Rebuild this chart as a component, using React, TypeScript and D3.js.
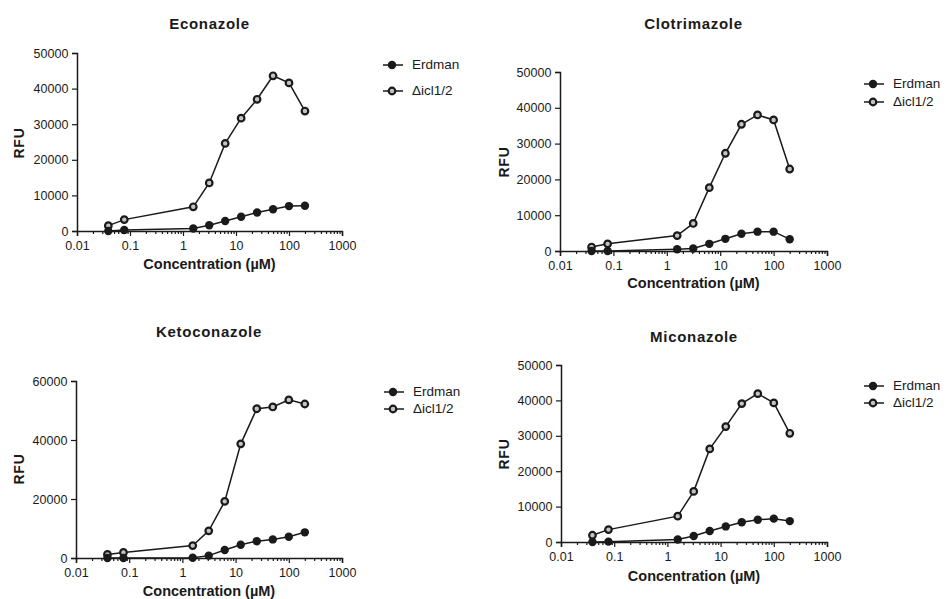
import * as React from "react";
import * as d3 from "d3";

const concentrations = [0.039, 0.078, 1.5625, 3.125, 6.25, 12.5, 25, 50, 100, 200];
const seriesNames = ["Erdman", "Δicl1/2"];
const xTickValues = [0.01, 0.1, 1, 10, 100, 1000];
const xTickLabels = ["0.01", "0.1", "1", "10", "100", "1000"];

const econazoleErdman = [0, 300, 700, 1600, 2800, 4000, 5200, 6100, 7000, 7100];
const econazoleIcl = [1500, 3200, 6800, 13500, 24600, 31700, 37000, 43600, 41600, 33700];
const clotrimazoleErdman = [0, 0, 500, 700, 2000, 3400, 4800, 5400, 5400, 3300];
const clotrimazoleIcl = [1100, 2000, 4300, 7700, 17700, 27300, 35400, 38000, 36600, 22900];
const ketoconazoleErdman = [0, 0, 100, 800, 2700, 4500, 5700, 6300, 7200, 8700];
const ketoconazoleIcl = [1200, 1900, 4200, 9200, 19200, 38700, 50600, 51200, 53600, 52200];
const miconazoleErdman = [0, 100, 700, 1700, 3100, 4400, 5600, 6300, 6600, 5900];
const miconazoleIcl = [1900, 3500, 7300, 14300, 26300, 32600, 39100, 41900, 39300, 30700];

const titles = ["Econazole", "Clotrimazole", "Ketoconazole", "Miconazole"];
const yMaxes = [50000, 50000, 60000, 50000];
const yTicks = [
  [0, 10000, 20000, 30000, 40000, 50000],
  [0, 10000, 20000, 30000, 40000, 50000],
  [0, 20000, 40000, 60000],
  [0, 10000, 20000, 30000, 40000, 50000],
];

// layout of each panel (pixels)
const panels = [
  { left: 77, right: 342, bottom: 231, top: 53, titleY: 25, legendX: 392, legendY: 65, legendGap: 26, xLabelY: 265, yLabelY: 143, yLabelX: 20 },
  { left: 560, right: 827, bottom: 251, top: 72, titleY: 25, legendX: 873, legendY: 84, legendGap: 18, xLabelY: 284, yLabelY: 162, yLabelX: 505 },
  { left: 76, right: 342, bottom: 558, top: 381, titleY: 333, legendX: 393, legendY: 392, legendGap: 17, xLabelY: 592, yLabelY: 469, yLabelX: 20 },
  { left: 561, right: 827, bottom: 542, top: 365, titleY: 338, legendX: 873, legendY: 386, legendGap: 17, xLabelY: 577, yLabelY: 454, yLabelX: 505 },
];

const panelData = [
  [econazoleErdman, econazoleIcl],
  [clotrimazoleErdman, clotrimazoleIcl],
  [ketoconazoleErdman, ketoconazoleIcl],
  [miconazoleErdman, miconazoleIcl],
];

const FONT = "'Liberation Sans', Arial, sans-serif";
const INK = "#1a1a1a";

function drawMarker(g: any, i: number, cx: number, cy: number) {
  if (i === 0) {
    g.append("circle").attr("cx", cx).attr("cy", cy).attr("r", 4.2).attr("fill", INK);
  } else {
    g.append("circle")
      .attr("cx", cx)
      .attr("cy", cy)
      .attr("r", 3.3)
      .attr("fill", "#c4c4c4")
      .attr("stroke", INK)
      .attr("stroke-width", 2.2);
  }
}

export default function App() {
  const ref = React.useRef<SVGSVGElement>(null);

  React.useEffect(() => {
    if (!ref.current) return;
    const svg = d3.select(ref.current);
    svg.selectAll("*").remove();

    const minorTicks: number[] = [];
    for (let e = -2; e < 3; e++) {
      for (let m = 2; m < 10; m++) minorTicks.push(m * Math.pow(10, e));
    }

    panels.forEach((p, pi) => {
      const g = svg.append("g");
      const x = d3.scaleLog().domain([0.01, 1000]).range([p.left, p.right]);
      const y = d3.scaleLinear().domain([0, yMaxes[pi]]).range([p.bottom, p.top]);
      const cx = (p.left + p.right) / 2;

      g.append("text")
        .attr("x", cx)
        .attr("y", p.titleY)
        .attr("text-anchor", "middle")
        .attr("dominant-baseline", "middle")
        .attr("font-family", FONT)
        .attr("font-weight", "bold")
        .attr("font-size", 15)
        .attr("letter-spacing", 0.7)
        .attr("fill", INK)
        .text(titles[pi]);

      // x axis
      const xAxis = g.append("g").attr("transform", `translate(0,${p.bottom})`);
      xAxis.call(
        d3
          .axisBottom(x)
          .tickValues(xTickValues)
          .tickSize(5)
          .tickFormat((d, i) => xTickLabels[i])
      );
      const xMinor = g.append("g").attr("transform", `translate(0,${p.bottom})`);
      xMinor.call(d3.axisBottom(x).tickValues(minorTicks).tickSize(3).tickFormat(() => ""));
      xMinor.select(".domain").remove();

      // y axis
      const yAxis = g.append("g").attr("transform", `translate(${p.left},0)`);
      yAxis.call(
        d3
          .axisLeft(y)
          .tickValues(yTicks[pi])
          .tickSize(5)
          .tickFormat(d3.format("d"))
      );

      g.selectAll(".domain").attr("stroke", INK).attr("stroke-width", 1.5);
      g.selectAll(".tick line").attr("stroke", INK).attr("stroke-width", 1.2);
      g.selectAll(".tick text")
        .attr("font-family", FONT)
        .attr("font-size", 12.5)
        .attr("fill", INK);
      xAxis.selectAll(".tick text").attr("dy", "0.85em");
      yAxis.selectAll(".tick text").attr("dx", "-0.05em");

      g.append("text")
        .attr("x", cx)
        .attr("y", p.xLabelY)
        .attr("text-anchor", "middle")
        .attr("dominant-baseline", "middle")
        .attr("font-family", FONT)
        .attr("font-weight", "bold")
        .attr("font-size", 14.5)
        .attr("fill", INK)
        .text("Concentration (µM)");

      g.append("text")
        .attr("transform", `translate(${p.yLabelX},${p.yLabelY}) rotate(-90)`)
        .attr("text-anchor", "middle")
        .attr("dominant-baseline", "middle")
        .attr("font-family", FONT)
        .attr("font-weight", "bold")
        .attr("font-size", 14)
        .attr("letter-spacing", 0.8)
        .attr("fill", INK)
        .text("RFU");

      const line = d3
        .line<number>()
        .x((d, i) => x(concentrations[i]))
        .y(d => y(d));

      // draw Δicl1/2 first, then Erdman on top
      [1, 0].forEach(si => {
        const vals = panelData[pi][si];
        g.append("path")
          .attr("d", line(vals) as string)
          .attr("fill", "none")
          .attr("stroke", INK)
          .attr("stroke-width", 1.5);
        vals.forEach((v, i) => drawMarker(g, si, x(concentrations[i]), y(v)));
      });

      // legend
      seriesNames.forEach((name, si) => {
        const ly = p.legendY + si * p.legendGap;
        g.append("line")
          .attr("x1", p.legendX - 9)
          .attr("x2", p.legendX + 11)
          .attr("y1", ly)
          .attr("y2", ly)
          .attr("stroke", INK)
          .attr("stroke-width", 1.5);
        drawMarker(g, si, p.legendX, ly);
        g.append("text")
          .attr("x", p.legendX + 20)
          .attr("y", ly)
          .attr("dominant-baseline", "middle")
          .attr("font-family", FONT)
          .attr("font-size", 13.5)
          .attr("fill", INK)
          .text(name);
      });
    });
  }, []);

  return (
    <svg
      ref={ref}
      width={946}
      height={599}
      style={{ position: "absolute", left: 0, top: 0, background: "#fff" }}
    />
  );
}
